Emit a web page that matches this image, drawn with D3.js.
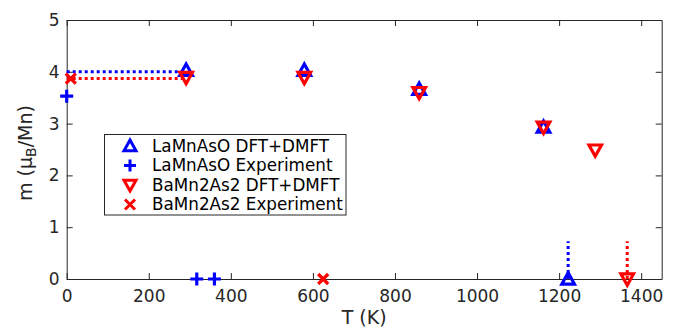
<!DOCTYPE html>
<html>
<head>
<meta charset="utf-8">
<script src="https://cdn.jsdelivr.net/npm/d3@7"></script>
<style>
body { margin:0; background:#fff; }
text { font-family: "DejaVu Sans", sans-serif; fill:#262626; }
</style>
</head>
<body>
<div id="chart"></div>
<script>
// LaMnAsO
var laDftT = [291, 579, 859, 1162, 1222];
var laDftM = [4.03, 4.03, 3.66, 2.93, 0];
var laExpT = [0, 317, 360];
var laExpM = [3.53, 0, 0];
// BaMn2As2
var baDftT = [291, 579, 859, 1162, 1288, 1366];
var baDftM = [3.89, 3.89, 3.60, 2.93, 2.49, 0];
var baExpT = [10, 625];
var baExpM = [3.87, 0];
// dotted guides
var laFlatT = [0, 291], laFlatM = [4.0, 4.0];
var baFlatT = [0, 291], baFlatM = [3.87, 3.87];
var laTcT = [1222, 1222], laTcM = [0, 0.73];
var baTcT = [1366, 1366], baTcM = [0, 0.73];

var xTicks = [0, 200, 400, 600, 800, 1000, 1200, 1400];
var yTicks = [0, 1, 2, 3, 4, 5];
var legendNames = ["LaMnAsO DFT+DMFT", "LaMnAsO Experiment", "BaMn2As2 DFT+DMFT", "BaMn2As2 Experiment"];

var W = 674, H = 328;
var L = 66.7, R = 661.7, T = 20, B = 279;
var blue = "#0000ff", red = "#ff0000", axc = "#262626";

var svg = d3.select("#chart").append("svg")
    .attr("width", W).attr("height", H);

var x = d3.scaleLinear().domain([0, 1450]).range([L, R]);
var y = d3.scaleLinear().domain([0, 5]).range([B, T]);

function zip(a, b) { return a.map(function(v, i) { return [v, b[i]]; }); }

// axes
function styleAxis(g) {
  g.select(".domain").attr("stroke", axc).attr("stroke-width", 1);
  g.selectAll(".tick line").attr("stroke", axc);
  g.selectAll(".tick text").style("font-size", "17px").style("fill", axc)
    .attr("font-family", null).attr("fill", null);
}
svg.append("g").attr("transform", "translate(0," + B + ")")
  .call(d3.axisBottom(x).tickValues(xTicks).tickFormat(d3.format("d")).tickSize(-6).tickPadding(11).tickSizeOuter(0))
  .call(styleAxis);
svg.append("g").attr("transform", "translate(0," + T + ")")
  .call(d3.axisTop(x).tickValues(xTicks).tickSize(-6).tickFormat("").tickSizeOuter(0))
  .call(styleAxis);
svg.append("g").attr("transform", "translate(" + L + ",0)")
  .call(d3.axisLeft(y).tickValues(yTicks).tickFormat(d3.format("d")).tickSize(-6).tickPadding(7).tickSizeOuter(0))
  .call(styleAxis);
svg.append("g").attr("transform", "translate(" + R + ",0)")
  .call(d3.axisRight(y).tickValues(yTicks).tickSize(-6).tickFormat("").tickSizeOuter(0))
  .call(styleAxis);

// axis labels
svg.append("text").attr("x", (L + R) / 2).attr("y", 324)
  .attr("text-anchor", "middle").style("font-size", "19px").text("T (K)");
var yl = svg.append("text").attr("transform", "translate(32,153) rotate(-90)")
  .attr("text-anchor", "middle").style("font-size", "19px");
yl.append("tspan").text("m (\u03bc");
yl.append("tspan").attr("baseline-shift", "-30%").style("font-size", "14px").text("B");
yl.append("tspan").text("/Mn)");

// dotted lines
var line = d3.line().x(function(d) { return x(d[0]); }).y(function(d) { return y(d[1]); });
[[laFlatT, laFlatM, blue], [baFlatT, baFlatM, red], [laTcT, laTcM, blue], [baTcT, baTcM, red]]
  .forEach(function(s) {
    svg.append("path").datum(zip(s[0], s[1])).attr("d", line)
      .attr("fill", "none").attr("stroke", s[2]).attr("stroke-width", 3)
      .attr("stroke-dasharray", "3,3");
  });

// markers
var sz = 6.3;
function triUp(s) { return "M0," + (-s) + "L" + s + "," + (s * 0.8) + "L" + (-s) + "," + (s * 0.8) + "Z"; }
function triDown(s) { return "M0," + s + "L" + s + "," + (-s * 0.8) + "L" + (-s) + "," + (-s * 0.8) + "Z"; }
function plus(s) { return "M" + (-s) + ",0H" + s + "M0," + (-s) + "V" + s; }
function cross(s) { return "M" + (-s) + "," + (-s) + "L" + s + "," + s + "M" + (-s) + "," + s + "L" + s + "," + (-s); }

var series = [
  {t: laDftT, m: laDftM, c: blue, p: triUp(sz)},
  {t: laExpT, m: laExpM, c: blue, p: plus(6.5)},
  {t: baDftT, m: baDftM, c: red, p: triDown(sz)},
  {t: baExpT, m: baExpM, c: red, p: cross(5)}
];

series.forEach(function(s) {
  svg.append("g").selectAll("path")
    .data(zip(s.t, s.m))
    .enter()
    .append("path")
    .attr("transform", function(d) { return "translate(" + x(d[0]) + "," + y(d[1]) + ")"; })
    .attr("d", s.p)
    .attr("fill", "none")
    .attr("stroke", s.c)
    .attr("stroke-width", 3.2);
});

// legend
var lg = svg.append("g");
lg.append("rect").attr("x", 104.5).attr("y", 134.5).attr("width", 241.5).attr("height", 80.5)
  .attr("fill", "#fff").attr("stroke", axc).attr("stroke-width", 1);
lg.selectAll("g.item")
  .data(series)
  .enter()
  .append("g")
  .attr("transform", function(d, i) { return "translate(130," + (146 + i * 19.5) + ")"; })
  .each(function(d, i) {
    var g = d3.select(this);
    var p = [triUp(6), plus(6), triDown(6), cross(5)][i];
    g.append("path").attr("d", p).attr("fill", "none").attr("stroke", d.c).attr("stroke-width", 3);
    g.append("text").attr("x", 22).attr("dy", "0.35em").style("font-size", "16.8px")
      .style("fill", "#000").text(legendNames[i]);
  });
</script>
</body>
</html>
